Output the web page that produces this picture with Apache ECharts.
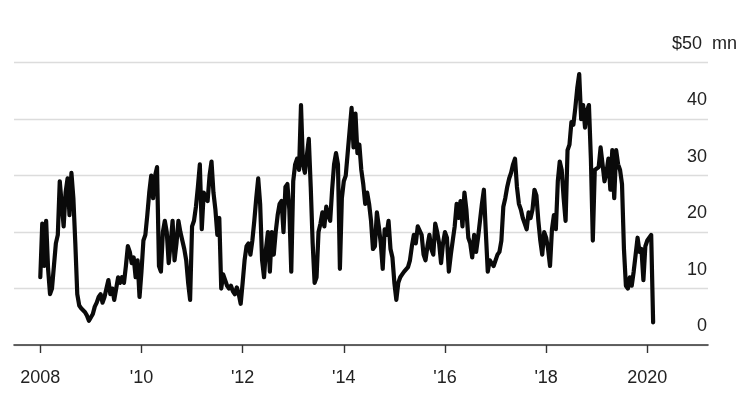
<!DOCTYPE html>
<html>
<head>
<meta charset="utf-8">
<script src="https://cdn.jsdelivr.net/npm/echarts@6/dist/echarts.min.js"></script>
<style>
  html, body { margin: 0; padding: 0; background: #fff; }
  #chart { width: 744px; height: 398px; }
</style>
</head>
<body>
<div id="chart"></div>
<script>
// Bi-weekly readings (26 per year), $ million
const years = [2008, 2009, 2010, 2011, 2012, 2013, 2014, 2015, 2016, 2017, 2018, 2019, 2020];
const v2008 = [12, 21.5, 14, 22, 13.5, 9, 10, 14, 18, 19.5, 29, 25, 21, 27, 29.5, 23, 30.5, 26, 18, 9, 7, 6.5, 6.2, 5.8, 5.2, 4.3];
const v2009 = [4.5, 5.5, 6.8, 7.5, 8.5, 9, 7.5, 8.5, 10, 11.5, 9, 10, 8, 10, 12, 11, 12, 11, 14, 17.5, 16.5, 14.5, 15.5, 12, 15, 8.5];
const v2010 = [13, 18.5, 19.5, 23, 27, 30, 26, 30, 31.5, 14, 13, 20, 22, 20, 14.5, 18, 22, 15, 18, 22, 20, 18.5, 17, 15, 11, 8];
const v2011 = [21, 22, 24.5, 28, 32, 20.5, 27, 26, 25.5, 30, 32.5, 27, 24, 19.5, 22.5, 10, 12.5, 12.5, 10.5, 10, 10.5, 9.5, 9, 10.2, 9, 7.3];
const v2012 = [11, 15, 17.5, 18, 16, 18.5, 22, 26, 29.5, 25, 15, 12, 17, 20, 13, 20, 16, 20, 23, 25, 25.5, 20, 28, 28.5, 24, 13];
const v2013 = [29, 32, 33, 31, 42.5, 32, 30.5, 33.5, 36.5, 28, 18, 11, 12, 20, 21.5, 23.5, 21, 24.5, 23, 22, 27.5, 32, 34, 32, 13.5, 26];
const v2014 = [29, 30, 34, 38, 42, 35, 41, 34, 35.5, 31, 28.5, 25, 27, 25, 22, 17, 17.5, 23.5, 21, 18, 13.5, 20.5, 19.5, 22, 17, 15.5];
const v2015 = [11, 8, 11, 12, 12.5, 13, 13.3, 13.8, 15, 17.5, 19.5, 18, 21, 21, 19.5, 16, 15, 17.5, 19.5, 17, 16, 21.5, 20, 18, 14.5, 18];
const v2016 = [20, 19, 13, 16, 18.5, 21, 25, 22.5, 25.5, 21, 27, 24, 19, 18, 15.5, 19.5, 16.5, 19, 22, 25, 27.5, 20, 13, 15, 14.5, 14];
const v2017 = [15, 16, 16.5, 18.5, 24.5, 26, 28, 29.5, 30.5, 32, 33, 28, 25, 24, 22.5, 21.5, 20.5, 23.5, 22.5, 24, 27.5, 26.5, 22, 18.5, 16, 20];
const v2018 = [19, 17, 14, 20.5, 23, 20.5, 29, 32.5, 31, 26, 22, 34.5, 35.5, 39.5, 39, 42, 45.5, 48, 40, 42.5, 38.5, 41.5, 42.5, 33, 18.5, 31];
const v2019 = [31, 31.5, 35, 32, 29, 30.5, 33, 27.5, 34.5, 26, 34.5, 32, 31, 28.5, 17, 10.5, 10, 12, 10.5, 13, 16, 19, 16.5, 17, 11.5, 17.5];
const v2020 = [18.5, 19, 19.5, 4];
const yearValues = [v2008, v2009, v2010, v2011, v2012, v2013, v2014, v2015, v2016, v2017, v2018, v2019, v2020];
const pointsPerYear = 26;

const tickYears = [2008, 2010, 2012, 2014, 2016, 2018, 2020];
const tickLabels = ['2008', "'10", "'12", "'14", "'16", "'18", '2020'];
const unitLabel = '$50';
const unitSuffix = ' mn';

const data = [];
years.forEach((yr, k) => {
  yearValues[k].forEach((v, i) => data.push([yr + i / pointsPerYear, v]));
});

const FONT = '"Liberation Sans", Arial, Helvetica, sans-serif';
const chart = echarts.init(document.getElementById('chart'), null, { renderer: 'canvas' });
chart.setOption({
  animation: false,
  backgroundColor: '#ffffff',
  grid: { left: 14, right: 36, top: 62.7, bottom: 53 },
  xAxis: {
    type: 'value',
    min: 2007.48,
    max: 2021.2,
    axisLine: { show: true, lineStyle: { color: '#333', width: 1.6 } },
    axisTick: { show: true, customValues: tickYears, length: 8, lineStyle: { color: '#333', width: 1.4 } },
    axisLabel: {
      show: true,
      customValues: tickYears,
      margin: 24,
      color: '#222',
      fontFamily: FONT,
      fontSize: 18,
      formatter: (v) => tickLabels[tickYears.indexOf(Math.round(v))] || ''
    },
    splitLine: { show: false }
  },
  yAxis: {
    type: 'value',
    position: 'right',
    min: 0,
    max: 50,
    interval: 10,
    axisLine: { show: false },
    axisTick: { show: false },
    splitLine: { show: true, lineStyle: { color: '#dcdcdc', width: 1.4 } },
    axisLabel: {
      inside: true,
      margin: 41,
      align: 'left',
      verticalAlign: 'bottom',
      padding: [0, 0, 10, 0],
      color: '#222',
      fontFamily: FONT,
      fontSize: 18,
      formatter: (v) => v === 50 ? '{a|' + unitLabel + '}{b|' + unitSuffix + '}' : '{a|' + v + '}',
      rich: {
        a: { width: 40, align: 'right', fontSize: 18, fontFamily: FONT, color: '#222', lineHeight: 18 },
        b: { fontSize: 18, fontFamily: FONT, color: '#222', lineHeight: 18 }
      }
    }
  },
  series: [{
    type: 'line',
    data: data,
    symbol: 'none',
    lineStyle: { color: '#0a0a0a', width: 4.2, join: 'round', cap: 'round' },
    z: 5
  }]
});
</script>
</body>
</html>
